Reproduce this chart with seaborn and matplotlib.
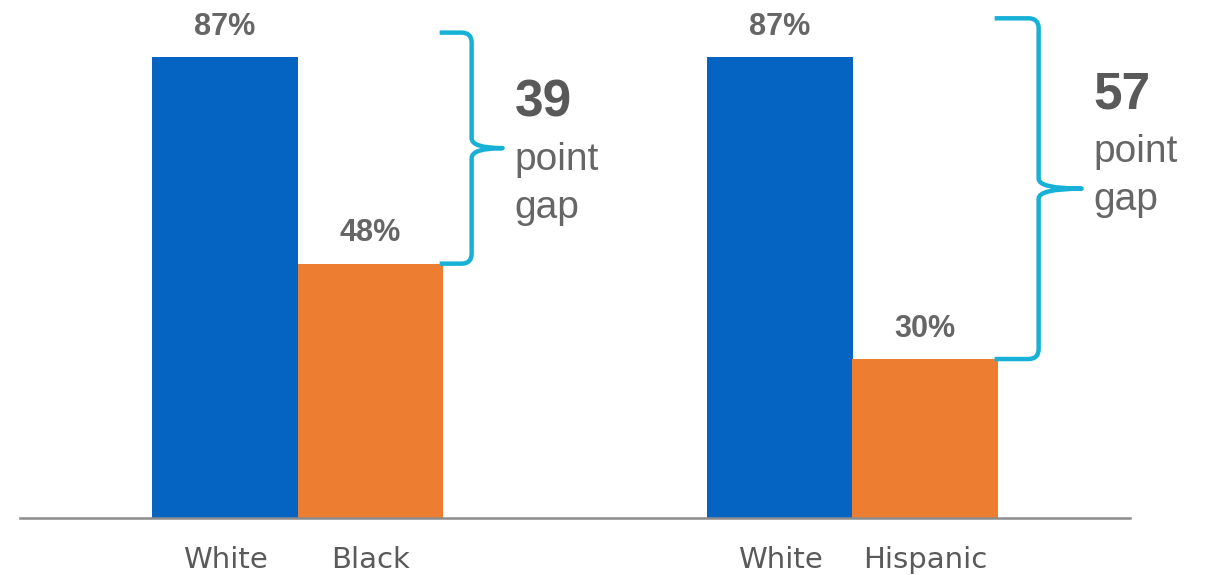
import pandas as pd
import numpy as np
import seaborn as sns
import matplotlib.pyplot as plt
from matplotlib.path import Path
from matplotlib.patches import PathPatch

# data
groups = ["White vs Black", "White vs Hispanic"]
white_pct = [87, 87]
other_pct = [48, 30]
other_names = ["Black", "Hispanic"]
gap_points = [39, 57]

# layout for the annotation braces / gap text
brace_top = [91.6, 94.3]
brace_offset_px = [29, 41]
brace_tip_px = [31, 43]
gap_label_y = [78.3, 79.8]

BLUE = "#0563C1"
ORANGE = "#ED7D31"
CYAN = "#17B1D7"
GRAY = "#666666"


def draw_brace(ax, x_edge, y_bot, y_top, off_px, tip_px, px_x, px_y):
    xv = x_edge + off_px / px_x
    xl = x_edge - 3 / px_x
    rx, ry = 10 / px_x, 10 / px_y
    ym = (y_bot + y_top) / 2
    tip = xv + tip_px / px_x
    verts = [(xl, y_top), (xv - rx, y_top), (xv, y_top), (xv, y_top - ry),
             (xv, ym + ry), (xv, ym), (tip, ym),
             (xv, ym), (xv, ym - ry),
             (xv, y_bot + ry), (xv, y_bot), (xv - rx, y_bot), (xl, y_bot)]
    codes = [Path.MOVETO, Path.LINETO, Path.CURVE3, Path.CURVE3,
             Path.LINETO, Path.CURVE3, Path.CURVE3,
             Path.CURVE3, Path.CURVE3,
             Path.LINETO, Path.CURVE3, Path.CURVE3, Path.LINETO]
    patch = PathPatch(Path(verts, codes), fill=False, edgecolor=CYAN, lw=3.2,
                      capstyle="butt", joinstyle="round", clip_on=False)
    ax.add_patch(patch)
    return tip


def main():
    sns.set_style("white")
    plt.rcParams["font.family"] = ["Liberation Sans", "DejaVu Sans"]

    df = pd.DataFrame({
        "group": groups * 2,
        "race": ["White"] * 2 + ["Comparison"] * 2,
        "pct": white_pct + other_pct,
    })

    W, H = 1214, 575
    fig = plt.figure(figsize=(W / 100, H / 100), dpi=100)
    ax_l, ax_r, ax_b, ax_t = 20, 1130, 518, 4
    ax = fig.add_axes([ax_l / W, (H - ax_b) / H, (ax_r - ax_l) / W, (ax_b - ax_t) / H])

    sns.barplot(data=df, x="group", y="pct", hue="race", order=groups,
                hue_order=["White", "Comparison"],
                palette={"White": BLUE, "Comparison": ORANGE},
                width=0.523, gap=0, saturation=1, legend=False, ax=ax, linewidth=0)
    ax.set_xlim(-0.5, 1.5)
    ax.set_ylim(0, 97)
    px_x = (ax_r - ax_l) / 2.0
    px_y = (ax_b - ax_t) / 97.0

    for c in ax.containers:
        ax.bar_label(c, labels=[f"{v:.0f}%" for v in c.datavalues], padding=11,
                     fontsize=22, fontweight="bold", color=GRAY)

    # tick labels under each bar
    bars = sorted(ax.patches, key=lambda p: p.get_x())
    centers = [p.get_x() + p.get_width() / 2 for p in bars]
    names = []
    for n in other_names:
        names += ["White", n]
    ax.set_xticks(centers)
    ax.set_xticklabels(names, fontsize=21, color="#5a5a5a", family=["DejaVu Sans"])
    ax.tick_params(axis="x", length=0, pad=20)
    ax.set_yticks([])
    ax.set_xlabel("")
    ax.set_ylabel("")
    for s in ["top", "left", "right"]:
        ax.spines[s].set_visible(False)
    ax.spines["bottom"].set_color("#8c8c8c")
    ax.spines["bottom"].set_linewidth(1.8)

    # braces and gap text
    orange_bars = ax.containers[1]
    for i, p in enumerate(orange_bars):
        x_edge = p.get_x() + p.get_width()
        tip = draw_brace(ax, x_edge, other_pct[i], brace_top[i],
                         brace_offset_px[i], brace_tip_px[i], px_x, px_y)
        tx = tip + 12 / px_x
        ty = gap_label_y[i]
        ax.text(tx, ty, str(gap_points[i]), fontsize=37, fontweight="bold",
                color="#595959", ha="left", va="center", clip_on=False)
        ax.text(tx, ty - 57 / px_y, "point", fontsize=28, color=GRAY,
                ha="left", va="center", clip_on=False)
        ax.text(tx, ty - 105 / px_y, "gap", fontsize=28, color=GRAY,
                ha="left", va="center", clip_on=False)

    fig.savefig("out.png", dpi=100)
    plt.close(fig)


if __name__ == "__main__":
    main()
